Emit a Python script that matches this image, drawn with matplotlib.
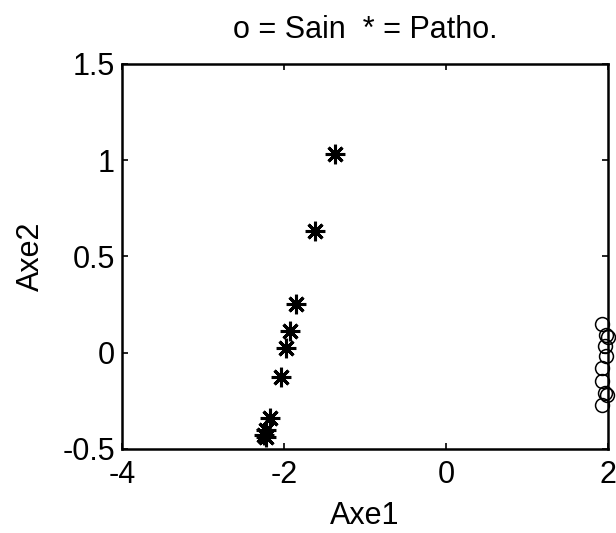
import matplotlib
matplotlib.use("Agg")
import matplotlib.pyplot as plt

plt.rcParams['font.family'] = ['Liberation Sans', 'DejaVu Sans']

# Pathological group (*)
patho_x = [-1.37, -1.62, -1.85, -1.92, -1.98, -2.04, -2.17, -2.22, -2.25, -2.22]
patho_y = [1.03, 0.63, 0.25, 0.11, 0.025, -0.125, -0.34, -0.40, -0.43, -0.44]

# Healthy group (o)
sain_x = [1.92, 1.97, 2.0, 1.96, 1.97, 1.93, 1.92, 1.96, 1.99, 1.93]
sain_y = [0.15, 0.09, 0.08, 0.035, -0.02, -0.08, -0.15, -0.21, -0.22, -0.27]

xticks = [-4, -2, 0, 2]
yticks = [-0.5, 0, 0.5, 1, 1.5]
ytick_labels = ['-0.5', '0', '0.5', '1', '1.5']

fig = plt.figure(figsize=(6.16, 5.33), dpi=100)
ax = fig.add_axes([0.198, 0.158, 0.789, 0.722])

ax.plot(patho_x, patho_y, linestyle='none', marker=(8, 2, 0), markersize=14,
        markeredgewidth=2.2, color='black', clip_on=False)
ax.plot(sain_x, sain_y, linestyle='none', marker='o', markersize=10,
        markerfacecolor='none', markeredgecolor='black', markeredgewidth=1.1,
        clip_on=False)

ax.set_xlim(-4, 2)
ax.set_ylim(-0.5, 1.5)
ax.set_xticks(xticks)
ax.set_xticklabels([str(t) for t in xticks])
ax.set_yticks(yticks)
ax.set_yticklabels(ytick_labels)
ax.tick_params(direction='in', top=True, right=True, length=4, width=1.2,
               labelsize=22)
ax.tick_params(axis='x', pad=8)
ax.tick_params(axis='y', pad=5)
for s in ax.spines.values():
    s.set_linewidth(1.8)

ax.set_xlabel('Axe1', fontsize=22, labelpad=8)
ax.set_ylabel('Axe2', fontsize=22, labelpad=12)
ax.set_title('o = Sain  * = Patho.', fontsize=22, pad=19)

fig.savefig('out.png', dpi=100)
